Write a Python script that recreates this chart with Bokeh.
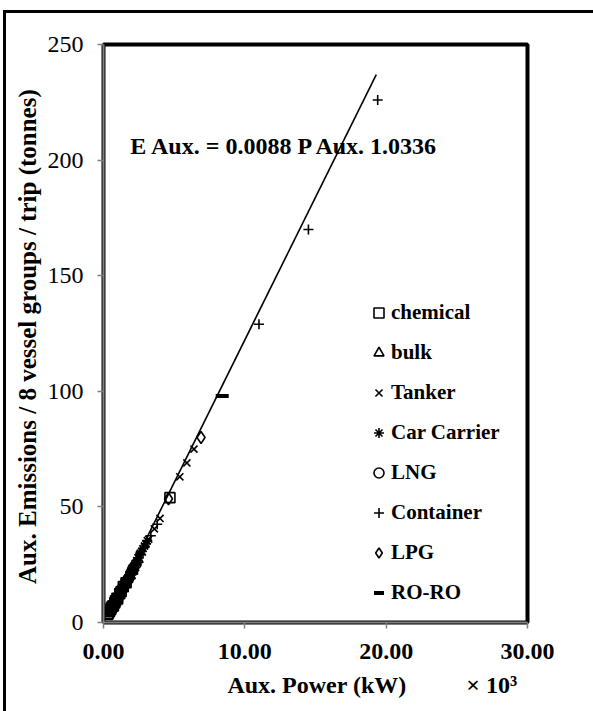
from bokeh.plotting import figure
from bokeh.models import Range1d, FixedTicker, NumeralTickFormatter, Label, Legend, LegendItem
from bokeh.embed import file_html
from bokeh.resources import INLINE

# ---- data (x in thousands of kW, y in tonnes) ----
chemical_x = [0.3, 0.35, 0.42, 0.5, 0.55, 0.62, 0.7, 0.8, 0.85, 0.95, 1.0, 1.15, 1.25, 1.4, 1.6, 4.7]
chemical_y = [3.5, 4, 4.8, 5.5, 6.3, 7, 7.2, 8.5, 9.4, 10.5, 10.2, 12.5, 13.4, 15.5, 17.2, 54]
bulk_x = [0.4, 0.55, 0.65, 0.75, 0.85, 0.9, 1.05, 1.15, 1.3, 1.4, 1.55, 1.65, 1.75, 1.9, 2.0, 2.15, 2.3, 2.45]
bulk_y = [4.6, 6, 7.4, 8, 8.6, 10, 11.5, 12.2, 14.5, 15.3, 17, 18.1, 19.5, 20.2, 22, 23.6, 26, 27.2]
tanker_x = [0.7, 1.0, 1.25, 1.6, 1.95, 2.35, 2.75, 3.2, 3.6, 4.0, 5.4, 5.9, 6.4]
tanker_y = [8, 11, 14, 18, 21.5, 26, 30.5, 36, 40.5, 45, 63, 69, 75]
car_x = [1.4, 1.5, 1.7, 1.8, 1.95, 2.05, 2.15, 2.25, 2.35, 2.45, 2.55, 2.6, 2.7, 2.8, 2.9, 3.0, 3.1]
car_y = [16.2, 17.5, 18.8, 20.5, 22.2, 23, 24.3, 25.5, 26.8, 28, 29.3, 30, 30.8, 32, 33.1, 34, 35.4]
lng_x = [0.45, 0.5, 0.65, 0.7, 0.85, 0.95, 1.1, 1.2, 1.35, 1.5, 1.7, 1.8, 2.0, 2.1, 2.3]
lng_y = [5, 5.6, 7, 7.8, 9.5, 10.3, 12, 13.2, 15, 16.1, 18.5, 19.3, 22.1, 23.5, 25.2]
container_x = [0.4, 0.6, 0.85, 1.15, 1.45, 1.75, 2.1, 2.5, 2.9, 3.35, 3.8, 11.0, 14.5, 19.4]
container_y = [4.5, 6.5, 9, 12.5, 16, 19.5, 23, 28, 32.5, 37.5, 42.5, 129, 170, 226]
lpg_x = [0.5, 0.8, 1.2, 1.6, 2.2, 4.6, 6.9]
lpg_y = [5.5, 8.5, 13, 17.5, 24.5, 53.5, 80]
roro_x = [0.6, 0.95, 1.3, 1.65, 2.0, 8.4]
roro_y = [6.5, 10, 14.5, 18, 21.5, 98]

trend_x = [0.3, 19.3]
trend_y = [2.5, 237.0]

x_ticks = [0, 10, 20, 30]
y_ticks = [0, 50, 100, 150, 200, 250]

FONT = "Liberation Serif"
NB = "\u00a0"

p = figure(frame_width=424, frame_height=578,
           x_range=Range1d(0, 30), y_range=Range1d(0, 250),
           output_backend="svg", toolbar_location=None,
           min_border_left=97, min_border_top=31, min_border_right=66, min_border_bottom=89)
p.styles = {"margin-left": "3px", "margin-top": "10px",
            "border-left": "3px solid black", "border-top": "3px solid black"}

p.background_fill_color = "white"
p.border_fill_color = "white"
p.xgrid.visible = False
p.ygrid.visible = False
p.outline_line_color = "black"
p.outline_line_width = 4

for ax in (p.xaxis[0], p.yaxis[0]):
    ax.axis_line_color = "#808080"
    ax.axis_line_width = 2
    ax.major_tick_line_color = "#808080"
    ax.major_tick_line_width = 1.5
    ax.major_tick_out = 6
    ax.major_tick_in = 0
    ax.minor_tick_line_color = None
    ax.major_label_text_font = FONT
    ax.axis_label_text_font = FONT
    ax.major_label_text_color = "black"
    ax.axis_label_text_color = "black"

p.xaxis.ticker = FixedTicker(ticks=x_ticks)
p.yaxis.ticker = FixedTicker(ticks=y_ticks)
p.xaxis.formatter = NumeralTickFormatter(format="0.00")
p.xaxis.major_label_text_font_style = "bold"
p.xaxis.major_label_text_font_size = "24px"
p.yaxis.major_label_text_font_size = "24px"
p.xaxis.major_label_standoff = 15
p.yaxis.major_label_standoff = 14

p.xaxis.axis_label = NB * 19 + "Aux. Power (kW)" + NB * 10 + "× 10³"
p.xaxis.axis_label_text_font_style = "bold"
p.xaxis.axis_label_text_font_size = "24px"
p.xaxis.axis_label_standoff = 10
p.yaxis.axis_label = "Aux. Emissions / 8 vessel groups / trip  (tonnes)"
p.yaxis.axis_label_text_font_style = "bold"
p.yaxis.axis_label_text_font_size = "25px"
p.yaxis.axis_label_standoff = 4

p.line(trend_x, trend_y, line_color="black", line_width=1.6)

common = dict(size=10, line_color="black", fill_color=None, line_width=1.6)
r_chem = p.scatter(chemical_x, chemical_y, marker="square", **common)
r_bulk = p.scatter(bulk_x, bulk_y, marker="triangle", **common)
r_tank = p.scatter(tanker_x, tanker_y, marker="x", **common)
r_car = p.scatter(car_x, car_y, marker="asterisk", **common)
r_lng = p.scatter(lng_x, lng_y, marker="circle", **common)
r_cont = p.scatter(container_x, container_y, marker="cross", **common)
r_lpg = p.scatter(lpg_x, lpg_y, marker="diamond", size=12, line_color="black",
                  fill_color=None, line_width=1.6)
r_roro = p.scatter(roro_x, roro_y, marker="dash", size=13, line_color="black", line_width=4)

legend = Legend(items=[
    LegendItem(label="chemical", renderers=[r_chem]),
    LegendItem(label="bulk", renderers=[r_bulk]),
    LegendItem(label="Tanker", renderers=[r_tank]),
    LegendItem(label="Car Carrier", renderers=[r_car]),
    LegendItem(label="LNG", renderers=[r_lng]),
    LegendItem(label="Container", renderers=[r_cont]),
    LegendItem(label="LPG", renderers=[r_lpg]),
    LegendItem(label="RO-RO", renderers=[r_roro]),
], location=(263, 17))
legend.label_text_font = FONT
legend.label_text_font_style = "bold"
legend.label_text_font_size = "21px"
legend.label_text_color = "black"
legend.label_standoff = 0
legend.glyph_width = 25
legend.glyph_height = 25
legend.label_height = 25
legend.spacing = 15
legend.padding = 0
legend.margin = 0
legend.border_line_color = None
legend.background_fill_color = None
p.add_layout(legend)

eq = Label(x=1.9, y=206, text="E Aux. = 0.0088 P Aux. 1.0336",
           text_font=FONT, text_font_style="bold", text_font_size="24px",
           text_baseline="middle", text_align="left", text_color="black")
p.add_layout(eq)

open("out.html", "w").write(file_html(p, INLINE))
